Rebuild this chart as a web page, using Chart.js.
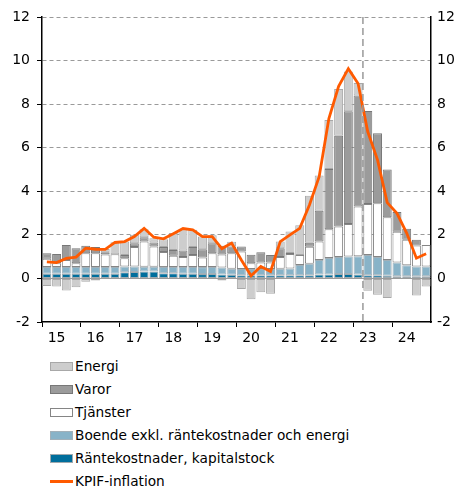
<!DOCTYPE html>
<html>
<head>
<meta charset="utf-8">
<script src="https://cdn.jsdelivr.net/npm/chart.js@4"></script>
<style>
body { margin: 0; background: #fff; font-family: "DejaVu Sans", Verdana, sans-serif; }
#wrap { position: relative; width: 460px; height: 350px; }
#legend { padding-top: 5px; }
.item { height: 23px; line-height: 23px; font-size: 13.7px; color: #000; position: relative; padding-left: 75px; white-space: nowrap; }
.sw { position: absolute; left: 50px; top: 7px; width: 21px; height: 7px; border: 1px solid #999; }
.ln { position: absolute; left: 50px; top: 10px; width: 23px; height: 3px; }
</style>
</head>
<body>
<div id="wrap"><canvas id="myChart" width="460" height="350"></canvas></div>
<div id="legend"></div>
<script>
//years shown on the x axis, one label per year
var years = ['15', '16', '17', '18', '19', '20', '21', '22', '23', '24'];

//quarters 2015K1 - 2024K4
var quarters = [];
for (var y = 0; y < years.length; y++) {
	for (var q = 1; q <= 4; q++) {
		quarters.push('20' + years[y] + 'K' + q);
	}
}

//contributions, percentage points
var rantekostnader = [0.22, 0.22, 0.22, 0.22, 0.22, 0.22, 0.22, 0.22, 0.28, 0.30, 0.32, 0.32, 0.24, 0.24, 0.22, 0.22, 0.20, 0.20, 0.18, 0.17,
	0.15, 0.15, 0.15, 0.15, 0.15, 0.15, 0.15, 0.15, 0.18, 0.18, 0.20, 0.20, 0.18, 0.15, 0.15, 0.12, 0.10, 0.10, 0.10, 0.10];
var boende = [0.30, 0.30, 0.30, 0.30, 0.30, 0.30, 0.30, 0.30, 0.27, 0.25, 0.22, 0.22, 0.28, 0.28, 0.30, 0.30, 0.32, 0.32, 0.32, 0.28,
	0.28, 0.28, 0.28, 0.28, 0.30, 0.31, 0.47, 0.52, 0.67, 0.76, 0.78, 0.81, 0.84, 0.93, 0.83, 0.73, 0.63, 0.51, 0.45, 0.45];
var tjanster = [0.38, 0.18, 0.33, 0.18, 0.64, 0.64, 0.58, 0.59, 0.38, 0.89, 1.15, 0.93, 0.69, 0.52, 0.46, 0.55, 0.44, 0.64, 0.60, 0.71,
	0.81, 0.27, 0.30, 0.30, 0.53, 0.66, 0.46, 0.78, 0.84, 1.32, 1.40, 1.49, 2.28, 2.34, 2.47, 1.96, 1.41, 1.16, 0.96, 0.99];
var varor = [0.26, 0.42, 0.68, 0.69, 0.34, 0.28, 0.10, 0.00, 0.15, 0.18, 0.20, 0.18, 0.23, 0.27, 0.30, 0.37, 0.38, 0.46, 0.40, 0.31,
	0.23, 0.39, 0.47, 0.34, 0.40, 0.05, 0.00, 0.19, 1.42, 2.76, 4.17, 5.17, 5.10, 4.27, 3.21, 2.19, 0.91, 0.51, 0.26, 0.00];
var energi = [-0.35, -0.37, -0.55, -0.40, -0.15, -0.10, 0.15, 0.55, 0.61, 0.38, 0.37, 0.20, 0.36, 0.77, 0.98, 0.79, 0.58, 0.36, -0.10, 0.21,
	-0.49, -0.95, -0.64, -0.70, 0.31, 0.98, 1.36, 2.15, 1.62, 2.25, 2.15, 1.83, 0.57, -0.56, -0.75, -0.90, 0.00, 0.00, -0.78, -0.37];

//KPIF, annual percentage change
var kpif = [0.76, 0.73, 0.92, 0.98, 1.39, 1.34, 1.33, 1.65, 1.69, 1.92, 2.30, 1.89, 1.82, 2.05, 2.29, 2.23, 1.92, 1.92, 1.37, 1.62,
	0.85, 0.12, 0.55, 0.32, 1.69, 2.00, 2.30, 3.37, 4.67, 7.34, 8.82, 9.63, 8.95, 6.73, 5.44, 3.48, 2.99, 2.08, 0.93, 1.13];

//last outcome quarter, the dashed line is drawn after it
var lastOutcome = 32;

//y axis ticks
var yMin = -2;
var yMax = 12;
var yStep = 2;

//dashed vertical line between outcome and forecast
var forecastLine = {
	id: 'forecastLine',
	afterDatasetsDraw: function(chart) {
		var ctx = chart.ctx;
		var xs = chart.scales.x;
		var x = (xs.getPixelForValue(lastOutcome) + xs.getPixelForValue(lastOutcome + 1)) / 2;
		ctx.save();
		ctx.strokeStyle = '#999999';
		ctx.lineWidth = 1.5;
		ctx.setLineDash([7, 4]);
		ctx.beginPath();
		ctx.moveTo(x, chart.chartArea.top);
		ctx.lineTo(x, chart.chartArea.bottom);
		ctx.stroke();
		ctx.restore();
	}
};

function barSet(label, data, fill, border) {
	return {
		type: 'bar',
		label: label,
		data: data,
		backgroundColor: fill,
		borderColor: border,
		borderWidth: 1,
		borderSkipped: false,
		barPercentage: 0.92,
		categoryPercentage: 1,
		order: 1
	};
}

var ctx = document.getElementById('myChart').getContext('2d');
var chart = new Chart(ctx, {
	type: 'bar',
	data: {
		labels: quarters,
		datasets: [
			{
				type: 'line',
				label: 'KPIF-inflation',
				data: kpif,
				borderColor: '#ff5a00',
				backgroundColor: '#ff5a00',
				borderWidth: 2.8,
				pointRadius: 0,
				tension: 0,
				stack: 'kpif',
				order: 0
			},
			barSet('Räntekostnader, kapitalstock', rantekostnader, '#006e9c', '#9fa9ae'),
			barSet('Boende exkl. räntekostnader och energi', boende, '#88b3c8', '#a2b0b8'),
			barSet('Tjänster', tjanster, '#ffffff', '#858585'),
			barSet('Varor', varor, '#9b9b9b', '#777777'),
			barSet('Energi', energi, '#cdcdcd', '#a8a8a8')
		]
	},
	plugins: [forecastLine],
	options: {
		responsive: false,
		animation: false,
		layout: { padding: { top: 17, left: 0, right: 0, bottom: 0 } },
		plugins: {
			legend: { display: false },
			tooltip: { enabled: false }
		},
		scales: {
			x: {
				type: 'category',
				stacked: true,
				offset: true,
				afterFit: function(scale) { scale.height = 28; },
				grid: {
					offset: true,
					drawOnChartArea: false,
					tickLength: 5,
					lineWidth: 1,
					color: function(c) { return c.index % 4 === 0 ? '#000000' : 'rgba(0,0,0,0)'; }
				},
				border: { color: '#000000', width: 1.5 },
				ticks: {
					autoSkip: false,
					maxRotation: 0,
					padding: 3,
					color: '#000000',
					font: { family: 'DejaVu Sans', size: 14 },
					callback: function(val, idx) { return idx % 4 === 1 ? years[(idx - 1) / 4] : ''; }
				}
			},
			y: {
				position: 'left',
				stacked: true,
				min: yMin,
				max: yMax,
				afterFit: function(scale) { scale.width = 42; },
				grid: {
					tickLength: 5,
					tickColor: '#000000',
					lineWidth: 1,
					color: function(c) { return (c.tick && c.tick.value === yMin) ? 'rgba(0,0,0,0)' : '#9a9a9a'; }
				},
				border: {
					color: '#000000',
					width: 1.5,
					dash: function(c) { return (c.tick && c.tick.value === 0) ? [] : [4, 3]; }
				},
				ticks: {
					stepSize: yStep,
					padding: 7,
					color: '#000000',
					font: { family: 'DejaVu Sans', size: 14 }
				}
			},
			y2: {
				position: 'right',
				min: yMin,
				max: yMax,
				afterFit: function(scale) { scale.width = 29; },
				grid: { drawOnChartArea: false, drawTicks: false },
				border: { color: '#000000', width: 1.5 },
				ticks: {
					stepSize: yStep,
					padding: 6,
					color: '#000000',
					font: { family: 'DejaVu Sans', size: 14 }
				}
			}
		}
	}
});

//legend in the same order as the original, top stack first
var legendOrder = ['Energi', 'Varor', 'Tjänster', 'Boende exkl. räntekostnader och energi', 'Räntekostnader, kapitalstock', 'KPIF-inflation'];
var legendHtml = '';
for (var i = 0; i < legendOrder.length; i++) {
	var ds = chart.data.datasets.find(function(d) { return d.label === legendOrder[i]; });
	if (ds.type === 'line') {
		legendHtml += '<div class="item"><span class="ln" style="background:' + ds.borderColor + '"></span>' + ds.label + '</div>';
	} else {
		legendHtml += '<div class="item"><span class="sw" style="background:' + ds.backgroundColor + ';border-color:' + ds.borderColor + '"></span>' + ds.label + '</div>';
	}
}
document.getElementById('legend').innerHTML = legendHtml;
</script>
</body>
</html>
